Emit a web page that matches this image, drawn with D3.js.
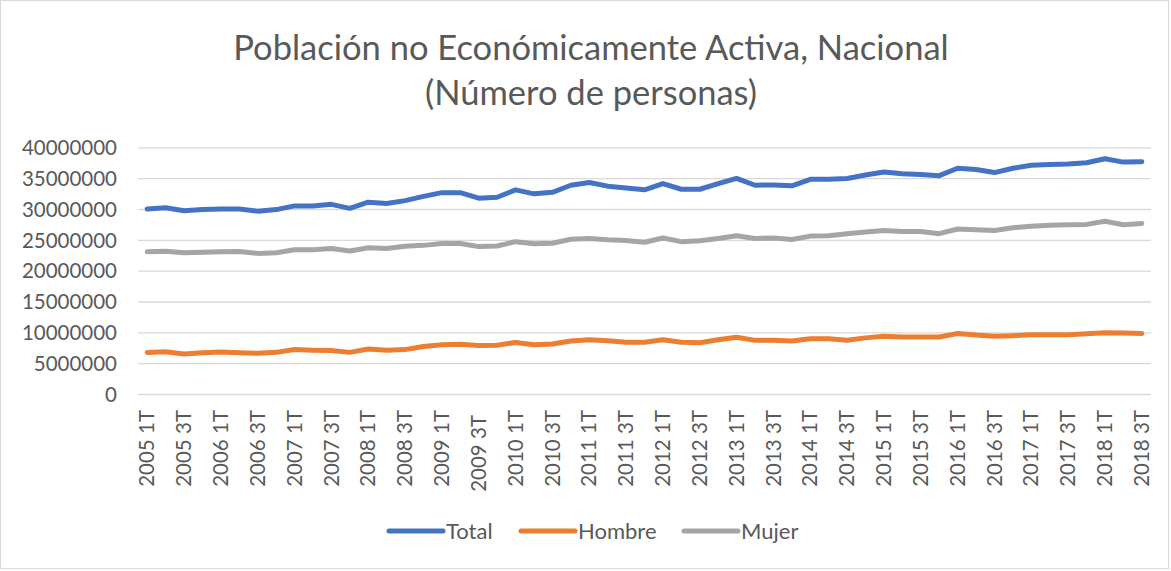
<!DOCTYPE html>
<html>
<head>
<meta charset="utf-8">
<script src="https://cdn.jsdelivr.net/npm/d3@7"></script>
<style>
  body { margin: 0; background: #fff; }
  svg text { font-family: Lato, "Open Sans", sans-serif; fill: #595959; }
</style>
</head>
<body>
<div id="graph"></div>
<script>
// quarters 2005 1T .. 2018 3T
var periods = []
d3.range(2005, 2019).forEach(y => ['1T', '2T', '3T', '4T'].forEach(q => periods.push(y + ' ' + q)))
periods = periods.slice(0, 55)

// millions of people
var total = [30.0, 30.2, 29.7, 29.9, 30.0, 30.0, 29.65, 29.9, 30.5, 30.5, 30.75, 30.1, 31.1, 30.9, 31.35, 32.05, 32.65, 32.65, 31.75,
  31.9, 33.1, 32.45, 32.7, 33.85, 34.3, 33.7, 33.4, 33.1, 34.1, 33.2, 33.2, 34.1, 34.95, 33.85, 33.9, 33.75, 34.8,
  34.8, 34.95, 35.5, 36.0, 35.7, 35.6, 35.4, 36.6, 36.4, 35.9, 36.6, 37.1, 37.2, 37.3, 37.5, 38.15, 37.6, 37.65]
var hombre = [6.74, 6.85, 6.5, 6.7, 6.8, 6.7, 6.6, 6.75, 7.2, 7.1, 7.05, 6.75, 7.3, 7.1, 7.2, 7.7, 8.0, 8.05, 7.85,
  7.9, 8.35, 8.0, 8.1, 8.6, 8.8, 8.65, 8.4, 8.4, 8.8, 8.4, 8.3, 8.8, 9.2, 8.7, 8.7, 8.6, 8.95,
  8.95, 8.7, 9.1, 9.35, 9.25, 9.25, 9.25, 9.8, 9.55, 9.35, 9.45, 9.6, 9.6, 9.6, 9.75, 9.95, 9.9, 9.8]
var mujer = [23.05, 23.15, 22.9, 23.0, 23.05, 23.1, 22.8, 22.9, 23.4, 23.4, 23.6, 23.2, 23.7, 23.6, 23.95, 24.1, 24.4, 24.4, 23.9,
  24.0, 24.7, 24.35, 24.45, 25.1, 25.2, 25.0, 24.9, 24.6, 25.3, 24.7, 24.85, 25.2, 25.65, 25.2, 25.3, 25.05, 25.6,
  25.65, 26.0, 26.25, 26.5, 26.35, 26.35, 26.0, 26.75, 26.65, 26.5, 26.95, 27.2, 27.35, 27.45, 27.5, 28.0, 27.45, 27.65]

var seriesNames = ['Total', 'Hombre', 'Mujer']
var seriesValues = [total, hombre, mujer]
var colors = ['#4472C4', '#ED7D31', '#A5A5A5']
var yTicks = d3.range(0, 40000001, 5000000)

var width = 1171, height = 571
var svg = d3.select('#graph').append('svg').attr('width', width).attr('height', height)

svg.append('rect')
  .attr('x', 0.5).attr('y', 0.5).attr('width', width - 3).attr('height', height - 3)
  .attr('fill', '#fff').attr('stroke', '#d9d9d9')

var title = svg.append('text').attr('text-anchor', 'middle').style('font-size', '34.5px')
title.append('tspan').attr('x', 591).attr('y', 60).text('Población no Económicamente Activa, Nacional')
title.append('tspan').attr('x', 591).attr('y', 105).text('(Número de personas)')

var x = d3.scaleBand().domain(periods).range([138, 1151])
var y = d3.scaleLinear().domain([0, 40000000]).range([394, 147.3])

// grid + y labels
svg.append('g')
  .attr('transform', 'translate(138,0)')
  .call(d3.axisLeft(y).tickValues(yTicks).tickSize(-(1151 - 138)).tickFormat(d3.format('d')))
  .call(g => g.select('.domain').remove())
  .call(g => g.selectAll('line').attr('stroke', '#d9d9d9').attr('stroke-width', 1.3))
  .call(g => g.selectAll('text').attr('x', -21).attr('dy', '0.35em').style('font-size', '20.5px'))

// x labels every other quarter
svg.append('g')
  .attr('transform', 'translate(0,394)')
  .call(d3.axisBottom(x).tickValues(periods.filter((d, i) => i % 2 == 0)).tickSize(0))
  .call(g => g.select('.domain').remove())
  .call(g => g.selectAll('text')
    .attr('transform', 'rotate(-90)')
    .attr('text-anchor', 'end')
    .attr('x', d => d == '2009 3T' ? -21 : -16).attr('y', 0).attr('dy', '0.35em')
    .style('font-size', '20.5px'))

var line = d3.line()
  .x((d, i) => x(periods[i]) + x.bandwidth() / 2)
  .y(d => y(d * 1e6))

seriesValues.forEach((vals, k) => {
  svg.append('path')
    .attr('d', line(vals))
    .attr('fill', 'none')
    .attr('stroke', colors[k])
    .attr('stroke-width', 5)
    .attr('stroke-linejoin', 'round')
    .attr('stroke-linecap', 'round')
})

// legend
var legendX = [389, 521, 684]
var leg = svg.append('g').selectAll('g').data(seriesNames).join('g')
  .attr('transform', (d, i) => `translate(${legendX[i]},531)`)
leg.append('line').attr('x1', 0).attr('x2', 54)
  .attr('stroke', (d, i) => colors[i]).attr('stroke-width', 5).attr('stroke-linecap', 'round')
leg.append('text').attr('x', 57).attr('dy', '0.35em').style('font-size', '22px').text(d => d)
</script>
</body>
</html>
